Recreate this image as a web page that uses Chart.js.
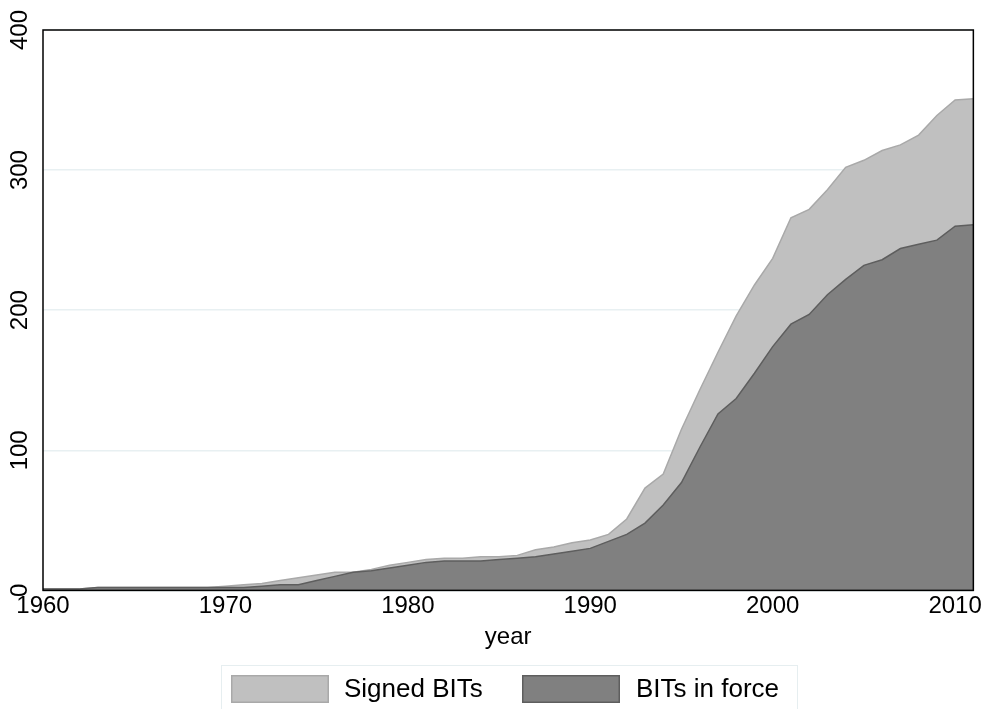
<!DOCTYPE html>
<html>
<head>
<meta charset="utf-8">
<script src="https://cdn.jsdelivr.net/npm/chart.js@4"></script>
<style>
  html, body { margin: 0; padding: 0; background: #fff; }
  #wrap { width: 984px; height: 709px; }
</style>
</head>
<body>
<div id="wrap"><canvas id="bits" width="984" height="709"></canvas></div>
<script>
// data
const years = [];
for (let y = 1960; y <= 2011; y++) years.push(y);

const signedBits = [
  1, 1, 1, 2, 2, 2, 2, 2, 2, 2,
  3, 4, 5, 7, 9, 11, 13, 13, 15, 18,
  20, 22, 23, 23, 24, 24, 25, 29, 31, 34,
  36, 40, 51, 73, 83, 115, 143, 170, 196, 218,
  237, 266, 272, 286, 302, 307, 314, 318, 325, 339,
  350, 351,
];
const bitsInForce = [
  1, 1, 1, 2, 2, 2, 2, 2, 2, 2,
  2, 2, 3, 4, 4, 7, 10, 13, 14, 16,
  18, 20, 21, 21, 21, 22, 23, 24, 26, 28,
  30, 35, 40, 48, 61, 77, 102, 126, 137, 155,
  174, 190, 197, 211, 222, 232, 236, 244, 247, 250,
  260, 261,
];
const yTicks = [0, 100, 200, 300, 400];
const xTicks = [1960, 1970, 1980, 1990, 2000, 2010];

const fontFamily = "'Liberation Sans', Arial, Helvetica, sans-serif";

const toPoints = (vals) => vals.map((v, i) => ({ x: years[i], y: v }));

// rotated y labels, plot frame and a boxed legend, Stata style
const stataBits = {
  id: "stataBits",
  afterDraw(chart) {
    const { ctx, chartArea, scales } = chart;
    ctx.save();
    // frame around plot region
    ctx.strokeStyle = "#000";
    ctx.lineWidth = 1.5;
    ctx.strokeRect(chartArea.left, chartArea.top, chartArea.right - chartArea.left, chartArea.bottom - chartArea.top);
    // y labels, reading upward
    ctx.fillStyle = "#000";
    ctx.font = "24px " + fontFamily;
    ctx.textAlign = "center";
    ctx.textBaseline = "middle";
    for (const v of yTicks) {
      const py = scales.y.getPixelForValue(v);
      ctx.save();
      ctx.translate(20, py);
      ctx.rotate(-Math.PI / 2);
      ctx.fillText(String(v), 0, 0);
      ctx.restore();
    }
    // legend
    ctx.strokeStyle = "#e6eef0";
    ctx.lineWidth = 1;
    ctx.strokeRect(221.5, 665.5, 576, 50);
    const items = [
      { x: 231, w: 98, tx: 344 },
      { x: 522, w: 98, tx: 636 },
    ];
    ctx.font = "26px " + fontFamily;
    ctx.textAlign = "left";
    chart.data.datasets.forEach((ds, i) => {
      const it = items[i];
      ctx.fillStyle = ds.backgroundColor;
      ctx.fillRect(it.x, 675, it.w, 28);
      ctx.strokeStyle = ds.borderColor;
      ctx.lineWidth = 1.5;
      ctx.strokeRect(it.x + 0.75, 675.75, it.w - 1.5, 26.5);
      ctx.fillStyle = "#000";
      ctx.fillText(ds.label, it.tx, 690);
    });
    ctx.restore();
  },
};

const ctx = document.querySelector("#bits").getContext("2d");
const bitsChart = new Chart(ctx, {
  type: "line",
  data: {
    datasets: [
      {
        label: "Signed BITs",
        data: toPoints(signedBits),
        backgroundColor: "#c0c0c0",
        borderColor: "#a9a9a9",
        borderWidth: 1.5,
        fill: "origin",
        order: 1,
      },
      {
        label: "BITs in force",
        data: toPoints(bitsInForce),
        backgroundColor: "#808080",
        borderColor: "#5e5e5e",
        borderWidth: 1.5,
        fill: "origin",
        order: 0,
      },
    ],
  },
  options: {
    responsive: false,
    animation: false,
    layout: { padding: { top: 30, right: 10, left: 0, bottom: 57 } },
    elements: { point: { radius: 0 }, line: { tension: 0 } },
    scales: {
      x: {
        type: "linear",
        min: 1960,
        max: 2011,
        grid: { display: false, drawTicks: false },
        border: { display: false },
        ticks: {
          stepSize: 10,
          includeBounds: false,
          color: "#000",
          padding: 2,
          maxRotation: 0,
          font: { family: fontFamily, size: 24 },
          callback: (v) => (xTicks.includes(v) ? String(v) : ""),
        },
        title: {
          display: true,
          text: "year",
          color: "#000",
          padding: { top: 0, bottom: 0 },
          font: { family: fontFamily, size: 24 },
        },
      },
      y: {
        min: 0,
        max: 400,
        afterFit: (scale) => {
          scale.width = 43;
        },
        grid: { color: "#e8f0f2", lineWidth: 1.5, drawTicks: false },
        border: { display: false },
        ticks: { stepSize: 100, display: false },
      },
    },
    plugins: {
      tooltip: { enabled: false },
      legend: { display: false },
    },
  },
  plugins: [stataBits],
});
</script>
</body>
</html>
